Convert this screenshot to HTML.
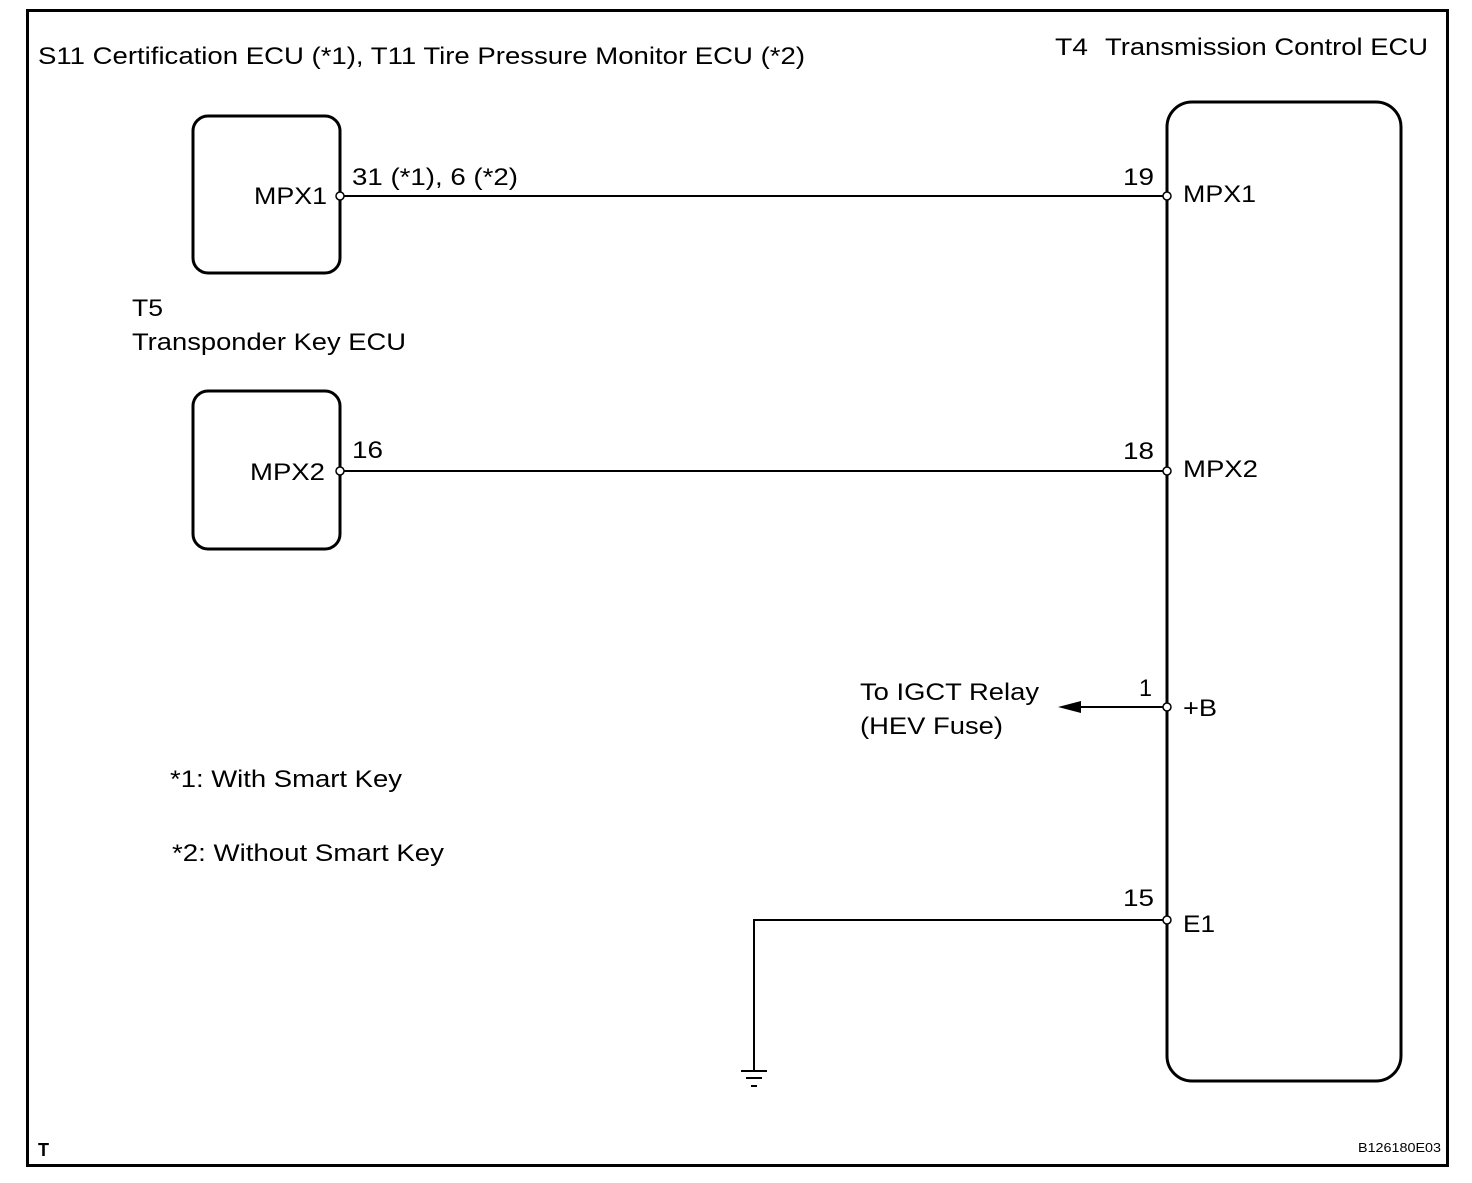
<!DOCTYPE html>
<html><head><style>body{margin:0;background:#fff}</style></head><body>
<svg width="1472" height="1178" xmlns="http://www.w3.org/2000/svg" font-family="Liberation Sans, Arial, sans-serif" font-size="24" fill="#000">
<rect x="0" y="0" width="1472" height="1178" fill="#fff"/>
<rect x="27.5" y="10.5" width="1420" height="1155" fill="none" stroke="#000" stroke-width="3"/>
<rect x="193" y="116" width="147" height="157" rx="15" fill="none" stroke="#000" stroke-width="3"/>
<rect x="193" y="391" width="147" height="158" rx="15" fill="none" stroke="#000" stroke-width="3"/>
<rect x="1167" y="102" width="234" height="979" rx="25" fill="none" stroke="#000" stroke-width="3"/>
<g stroke="#000" stroke-width="2" fill="none">
<line x1="340" y1="196" x2="1167" y2="196"/>
<line x1="340" y1="471" x2="1167" y2="471"/>
<line x1="1078" y1="707" x2="1167" y2="707"/>
<polyline points="1167,920 754,920 754,1071"/>
<line x1="741" y1="1071" x2="767" y2="1071"/>
<line x1="746" y1="1078" x2="762" y2="1078"/>
<line x1="751" y1="1086" x2="757" y2="1086"/>
</g>
<polygon points="1058,707 1081,701 1081,713" fill="#000"/>
<g fill="#fff" stroke="#000" stroke-width="1.5">
<circle cx="340" cy="196" r="4"/><circle cx="340" cy="471" r="4"/>
<circle cx="1167" cy="196" r="4"/><circle cx="1167" cy="471" r="4"/>
<circle cx="1167" cy="707" r="4"/><circle cx="1167" cy="920" r="4"/>
</g>
<g lengthAdjust="spacingAndGlyphs">
<text x="38" y="64" textLength="767" lengthAdjust="spacingAndGlyphs">S11 Certification ECU (*1), T11 Tire Pressure Monitor ECU (*2)</text>
<text x="1055" y="55" textLength="33" lengthAdjust="spacingAndGlyphs">T4</text>
<text x="1105" y="55" textLength="323" lengthAdjust="spacingAndGlyphs">Transmission Control ECU</text>
<text x="254" y="204" textLength="73" lengthAdjust="spacingAndGlyphs">MPX1</text>
<text x="352" y="185" textLength="166" lengthAdjust="spacingAndGlyphs">31 (*1), 6 (*2)</text>
<text x="132" y="316" textLength="31" lengthAdjust="spacingAndGlyphs">T5</text>
<text x="132" y="350" textLength="274" lengthAdjust="spacingAndGlyphs">Transponder Key ECU</text>
<text x="250" y="480" textLength="75" lengthAdjust="spacingAndGlyphs">MPX2</text>
<text x="352" y="458" textLength="31" lengthAdjust="spacingAndGlyphs">16</text>
<text x="1123" y="185" textLength="31" lengthAdjust="spacingAndGlyphs">19</text>
<text x="1183" y="202" textLength="73" lengthAdjust="spacingAndGlyphs">MPX1</text>
<text x="1123" y="459" textLength="31" lengthAdjust="spacingAndGlyphs">18</text>
<text x="1183" y="477" textLength="75" lengthAdjust="spacingAndGlyphs">MPX2</text>
<text x="1139" y="696" textLength="13" lengthAdjust="spacingAndGlyphs">1</text>
<text x="1183" y="716" textLength="34" lengthAdjust="spacingAndGlyphs">+B</text>
<text x="1123" y="906" textLength="31" lengthAdjust="spacingAndGlyphs">15</text>
<text x="1183" y="932" textLength="32" lengthAdjust="spacingAndGlyphs">E1</text>
<text x="860" y="700" textLength="179" lengthAdjust="spacingAndGlyphs">To IGCT Relay</text>
<text x="860" y="734" textLength="143" lengthAdjust="spacingAndGlyphs">(HEV Fuse)</text>
<text x="170" y="787" textLength="232" lengthAdjust="spacingAndGlyphs">*1: With Smart Key</text>
<text x="172" y="861" textLength="272" lengthAdjust="spacingAndGlyphs">*2: Without Smart Key</text>
</g>
<text x="38" y="1156" font-size="18" font-weight="bold">T</text>
<text x="1358" y="1152" font-size="13" textLength="83" lengthAdjust="spacingAndGlyphs">B126180E03</text>
</svg>
</body></html>
